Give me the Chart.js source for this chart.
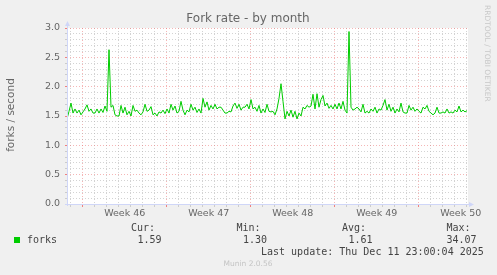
<!DOCTYPE html>
<html>
<head>
<meta charset="utf-8">
<script src="https://cdn.jsdelivr.net/npm/chart.js@4/dist/chart.umd.min.js"></script>
<style>
  html, body { margin: 0; padding: 0; background: #f0f0f0; }
  canvas { display: block; }
</style>
</head>
<body>
<canvas id="forkChart" width="497" height="275"></canvas>
<script>
// fork rate samples, one every 4 hours, oldest first
const stepHours = 4;
const forks = [
  1.45, 1.58, 1.72, 1.55, 1.62, 1.55, 1.60, 1.52, 1.57, 1.62,
  1.69, 1.58, 1.62, 1.55, 1.55, 1.62, 1.55, 1.62, 1.56, 1.67,
  1.58, 2.63, 1.65, 1.68, 1.52, 1.50, 1.50, 1.68, 1.55, 1.65,
  1.52, 1.58, 1.50, 1.68, 1.58, 1.60, 1.55, 1.52, 1.57, 1.70,
  1.58, 1.60, 1.66, 1.52, 1.55, 1.50, 1.57, 1.55, 1.60, 1.54,
  1.62, 1.55, 1.70, 1.60, 1.67, 1.55, 1.58, 1.75, 1.60, 1.52,
  1.60, 1.57, 1.70, 1.60, 1.65, 1.56, 1.62, 1.55, 1.80, 1.65,
  1.74, 1.60, 1.68, 1.62, 1.70, 1.62, 1.65, 1.65, 1.60, 1.55,
  1.55, 1.58, 1.57, 1.67, 1.72, 1.63, 1.70, 1.60, 1.65, 1.65,
  1.70, 1.62, 1.78, 1.62, 1.65, 1.58, 1.68, 1.55, 1.62, 1.56,
  1.70, 1.58, 1.57, 1.58, 1.52, 1.62, 1.80, 2.05, 1.75, 1.45,
  1.58, 1.50, 1.60, 1.48, 1.58, 1.45, 1.55, 1.50, 1.65, 1.62,
  1.68, 1.65, 1.67, 1.87, 1.62, 1.88, 1.65, 1.78, 1.85, 1.67,
  1.72, 1.63, 1.68, 1.62, 1.70, 1.62, 1.72, 1.62, 1.75, 1.60,
  1.55, 2.94, 1.65, 1.60, 1.62, 1.65, 1.62, 1.57, 1.70, 1.55,
  1.58, 1.55, 1.62, 1.58, 1.65, 1.55, 1.62, 1.60, 1.68, 1.78,
  1.60, 1.70, 1.58, 1.65, 1.55, 1.62, 1.57, 1.72, 1.57, 1.55,
  1.55, 1.68, 1.60, 1.65, 1.58, 1.62, 1.58, 1.55, 1.65, 1.62,
  1.68, 1.58, 1.55, 1.52, 1.55, 1.65, 1.55, 1.55, 1.57, 1.55,
  1.62, 1.55, 1.57, 1.55, 1.60, 1.57, 1.67, 1.57, 1.60, 1.57,
  1.59
];
const spanHours = 802;
const firstDayHour = 7.4;      // first midnight inside the graph
const firstWeekDay = 1;        // index of the first monday among those midnights
const weekLabels = ["Week 46", "Week 47", "Week 48", "Week 49", "Week 50"];
const yTicks = [0, 0.5, 1, 1.5, 2, 2.5, 3];

const legendHead = ["Cur:", "Min:", "Avg:", "Max:"];
const legendVals = ["1.59", "1.30", "1.61", "34.07"];
const lastUpdate = "Last update: Thu Dec 11 23:00:04 2025";

const points = forks.map((v, i) => ({ x: i * stepHours, y: v }));

const dayHours = [];
for (let h = firstDayHour; h <= spanHours; h += 24) dayHours.push(h);
const weekStarts = dayHours.filter((h, i) => (i - firstWeekDay) % 7 === 0);
const weekMids = weekStarts.map(h => h + 84);

const FONT = "#666666";
const AXIS = "#CFD6F8";
const GRID = "rgba(175,175,175,0.55)";
const MGRID = "rgba(235,110,110,0.5)";

const isWeekStart = v => weekStarts.some(w => Math.abs(w - v) < 0.01);
const midIndex = v => weekMids.findIndex(w => Math.abs(w - v) < 0.01);

const muninDecor = {
  id: "muninDecor",
  beforeDraw(chart) {
    const { ctx, chartArea: a } = chart;
    ctx.save();
    ctx.fillStyle = "#f0f0f0";
    ctx.fillRect(0, 0, chart.width, chart.height);
    ctx.fillStyle = "#ffffff";
    ctx.fillRect(a.left, a.top, a.right - a.left, a.bottom - a.top);
    ctx.restore();
  },
  afterDraw(chart) {
    const { ctx, chartArea: a } = chart;
    ctx.save();
    // axes with arrows
    ctx.strokeStyle = AXIS;
    ctx.fillStyle = AXIS;
    ctx.lineWidth = 1;
    ctx.beginPath();
    ctx.moveTo(a.left + 0.5, a.bottom + 2);
    ctx.lineTo(a.left + 0.5, a.top - 4);
    ctx.moveTo(a.left - 2, a.bottom + 0.5);
    ctx.lineTo(a.right + 2, a.bottom + 0.5);
    ctx.stroke();
    ctx.beginPath();
    ctx.moveTo(a.left - 2, a.top - 2);
    ctx.lineTo(a.left + 3, a.top - 2);
    ctx.lineTo(a.left + 0.5, a.top - 7);
    ctx.closePath();
    ctx.fill();
    ctx.beginPath();
    ctx.moveTo(a.right + 1, a.bottom - 2);
    ctx.lineTo(a.right + 1, a.bottom + 3);
    ctx.lineTo(a.right + 6, a.bottom + 0.5);
    ctx.closePath();
    ctx.fill();

    // title
    ctx.fillStyle = FONT;
    ctx.textBaseline = "middle";
    ctx.textAlign = "center";
    ctx.font = "12px 'DejaVu Sans'";
    ctx.fillText("Fork rate - by month", 248, 19);

    // vertical axis label
    ctx.save();
    ctx.translate(11, 115);
    ctx.rotate(-Math.PI / 2);
    ctx.font = "10.5px 'DejaVu Sans'";
    ctx.fillText("forks / second", 0, 0);
    ctx.restore();

    // rrdtool watermark
    ctx.save();
    ctx.translate(487, 5);
    ctx.rotate(Math.PI / 2);
    ctx.textAlign = "left";
    ctx.fillStyle = "#c8c8c8";
    ctx.font = "7.5px 'DejaVu Sans'";
    ctx.fillText("RRDTOOL / TOBI OETIKER", 0, 0);
    ctx.restore();

    // legend
    ctx.fillStyle = "#00cc00";
    ctx.fillRect(14, 237, 6, 6);
    ctx.fillStyle = "#444444";
    ctx.textAlign = "left";
    ctx.font = "10px 'DejaVu Sans Mono'";
    ctx.fillText("forks", 27, 240);
    const headX = [131, 236.5, 342, 446.5];
    const valX = [137.5, 243, 348.5, 446.5];
    legendHead.forEach((t, i) => ctx.fillText(t, headX[i], 228));
    legendVals.forEach((t, i) => ctx.fillText(t, valX[i], 240));
    ctx.fillText(lastUpdate, 261, 252);

    ctx.textAlign = "center";
    ctx.fillStyle = "#c4c4c4";
    ctx.font = "7.5px 'DejaVu Sans'";
    ctx.fillText("Munin 2.0.56", 248, 264);
    ctx.restore();
  }
};

new Chart(document.getElementById("forkChart"), {
  type: "line",
  data: {
    datasets: [
      {
        label: "forks",
        data: points,
        borderColor: "#00cc00",
        borderWidth: 1,
        pointRadius: 0,
        tension: 0,
        fill: false,
      },
    ],
  },
  options: {
    responsive: false,
    animation: false,
    layout: { padding: { left: 0, right: 29, top: 28, bottom: 0 } },
    plugins: { legend: { display: false }, title: { display: false }, tooltip: { enabled: false } },
    scales: {
      x: {
        type: "linear",
        min: 0,
        max: spanHours,
        afterFit(s) { s.height = 71; },
        afterBuildTicks(s) {
          s.ticks = dayHours.concat(weekMids).sort((p, q) => p - q).map(v => ({ value: v }));
        },
        ticks: {
          autoSkip: false,
          maxRotation: 0,
          padding: 1,
          color: FONT,
          font: { family: "DejaVu Sans", size: 9.5 },
          callback: v => (midIndex(v) >= 0 ? weekLabels[midIndex(v)] : ""),
        },
        grid: {
          color: c => (midIndex(c.tick.value) >= 0 ? "transparent" : isWeekStart(c.tick.value) ? MGRID : GRID),
          tickColor: c => (midIndex(c.tick.value) >= 0 ? "transparent" : isWeekStart(c.tick.value) ? "#f08080" : "#cccccc"),
          tickLength: 3,
          lineWidth: 1,
        },
        border: { display: false, dash: [1, 2] },
      },
      y: {
        min: 0,
        max: 3,
        afterFit(s) { s.width = 67; },
        afterBuildTicks(s) {
          const t = [];
          for (let i = 0; i <= 30; i++) t.push({ value: i / 10 });
          s.ticks = t;
        },
        ticks: {
          autoSkip: false,
          padding: 5,
          color: FONT,
          font: { family: "DejaVu Sans", size: 9.5 },
          callback: v => (yTicks.some(y => Math.abs(y - v) < 0.001) ? v.toFixed(1) : ""),
        },
        grid: {
          color: c => (Math.round(c.tick.value * 10) % 5 === 0 ? MGRID : GRID),
          tickColor: c => (Math.round(c.tick.value * 10) % 5 === 0 ? "#f08080" : "#cccccc"),
          tickLength: 2,
          lineWidth: 1,
        },
        border: { display: false, dash: [1, 2] },
      },
    },
  },
  plugins: [muninDecor],
});
</script>
</body>
</html>
